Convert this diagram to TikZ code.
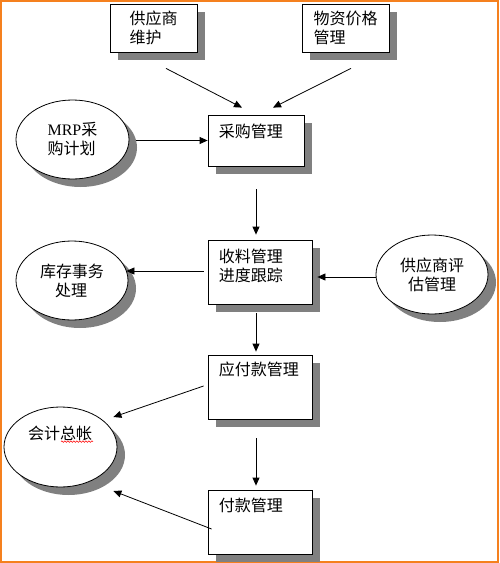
\documentclass[tikz,border=0pt]{standalone}
\usepackage{fontspec}
\setmainfont{Liberation Serif}
\newfontfamily\cjk{Noto Sans CJK SC}
\usetikzlibrary{shapes.geometric,shadows,calc,arrows.meta,decorations.pathmorphing}
\definecolor{framecol}{RGB}{245,128,30}
\definecolor{shadecol}{RGB}{128,128,128}
\begin{document}
\begin{tikzpicture}[x=1pt,y=-1pt,
  box/.style={rectangle, draw, line width=0.8pt, fill=white, inner sep=0pt,
    drop shadow={shadow xshift=8pt, shadow yshift=-8pt, fill=shadecol, opacity=1}},
  oval/.style={ellipse, draw, line width=0.8pt, fill=white, inner sep=0pt, align=left,
    font=\cjk\fontsize{16}{19}\selectfont,
    drop shadow={shadow xshift=8pt, shadow yshift=-8pt, fill=shadecol, opacity=1}},
  txt/.style={inner sep=0pt, align=left, font=\cjk\fontsize{16}{19}\selectfont},
  arr/.style={line width=0.8pt, -{Triangle[length=8pt,width=7pt]}}]
\useasboundingbox (0,0) rectangle (499,563);
\draw[framecol, line width=2pt] (1,1) rectangle (498,562);

\node[box, minimum width=87pt, minimum height=48pt, txt] (gys) at (153.5,28){供应商\\维护};
\node[box, minimum width=87pt, minimum height=48pt, txt] (wzjg) at (345.5,28){物资价格\\管理};
\node[box, minimum width=96pt, minimum height=51pt] (cggl) at (256,140.5){};
\node[txt, anchor=west] (cgglt) at ($(cggl.north west)+(11,17)$){采购管理};
\node[oval, minimum width=113pt, minimum height=79pt] (mrp) at (72.5,139.5){{\rmfamily MRP}采\\购计划};

\node[box, minimum width=104pt, minimum height=64pt] (slgl) at (260,272){};
\node[txt, anchor=west] (slglt) at ($(slgl.north west)+(11,26.5)$){收料管理\\进度跟踪};
\node[oval, minimum width=112pt, minimum height=79pt] (kcsw) at (72,280.5){库存事务\\\hspace*{15pt}处理};
\node[oval, minimum width=112pt, minimum height=79pt] (gyspg) at (432,274.5){供应商评\\\hspace*{8pt}估管理};

\node[box, minimum width=104pt, minimum height=64pt] (yfk) at (260,387){};
\node[txt, anchor=west] (yfkt) at ($(yfk.north west)+(11,15)$){应付款管理};
\node[oval, minimum width=113pt, minimum height=80pt] (kjzz) at (60.5,447){};
\node[txt] (kjzzt) at (60,433){会计总帐};
\draw[red, line width=0.5pt, decorate, decoration={snake, amplitude=0.8pt, segment length=3pt}]
  ($(kjzzt.south)+(1,1)$) -- ($(kjzzt.south east)+(1,1)$);

\node[box, minimum width=104pt, minimum height=64pt] (fkgl) at (260,522){};
\node[txt, anchor=west] (fkglt) at ($(fkgl.north west)+(11,16)$){付款管理};

\draw[arr] ($(gys.south)+(12.5,16)$) -- ($(cggl.north)+(-14,-7)$);
\draw[arr] ($(wzjg.south)+(5.5,16)$) -- ($(cggl.north)+(17,-7)$);
\draw[arr] ($(mrp.east)+(7,1)$) -- (cggl.west);
\draw[arr] ($(cggl.south)+(0,23)$) -- ($(cggl.south |- slgl.north)+(0,-5)$);
\draw[arr] ($(slgl.west)+(-4,-1)$) -- ($(kcsw.east)+(-2,-9.5)$);
\draw[arr] ($(gyspg.west)+(0,2.5)$) -- ($(slgl.east)+(5,5)$);
\draw[arr] ($(cggl.south |- slgl.south)+(0,9)$) -- ($(cggl.south |- yfk.north)+(0,-3)$);
\draw[arr] ($(yfk.west)+(-4,-1)$) -- ($(kjzz.east)+(-4,-30)$);
\draw[arr] ($(cggl.south |- yfk.south)+(0,19)$) -- ($(cggl.south |- fkgl.north)+(0,-4)$);
\draw[arr] ($(fkgl.west)+(4,7)$) -- ($(kjzz.east)+(-4,44)$);
\end{tikzpicture}
\end{document}
